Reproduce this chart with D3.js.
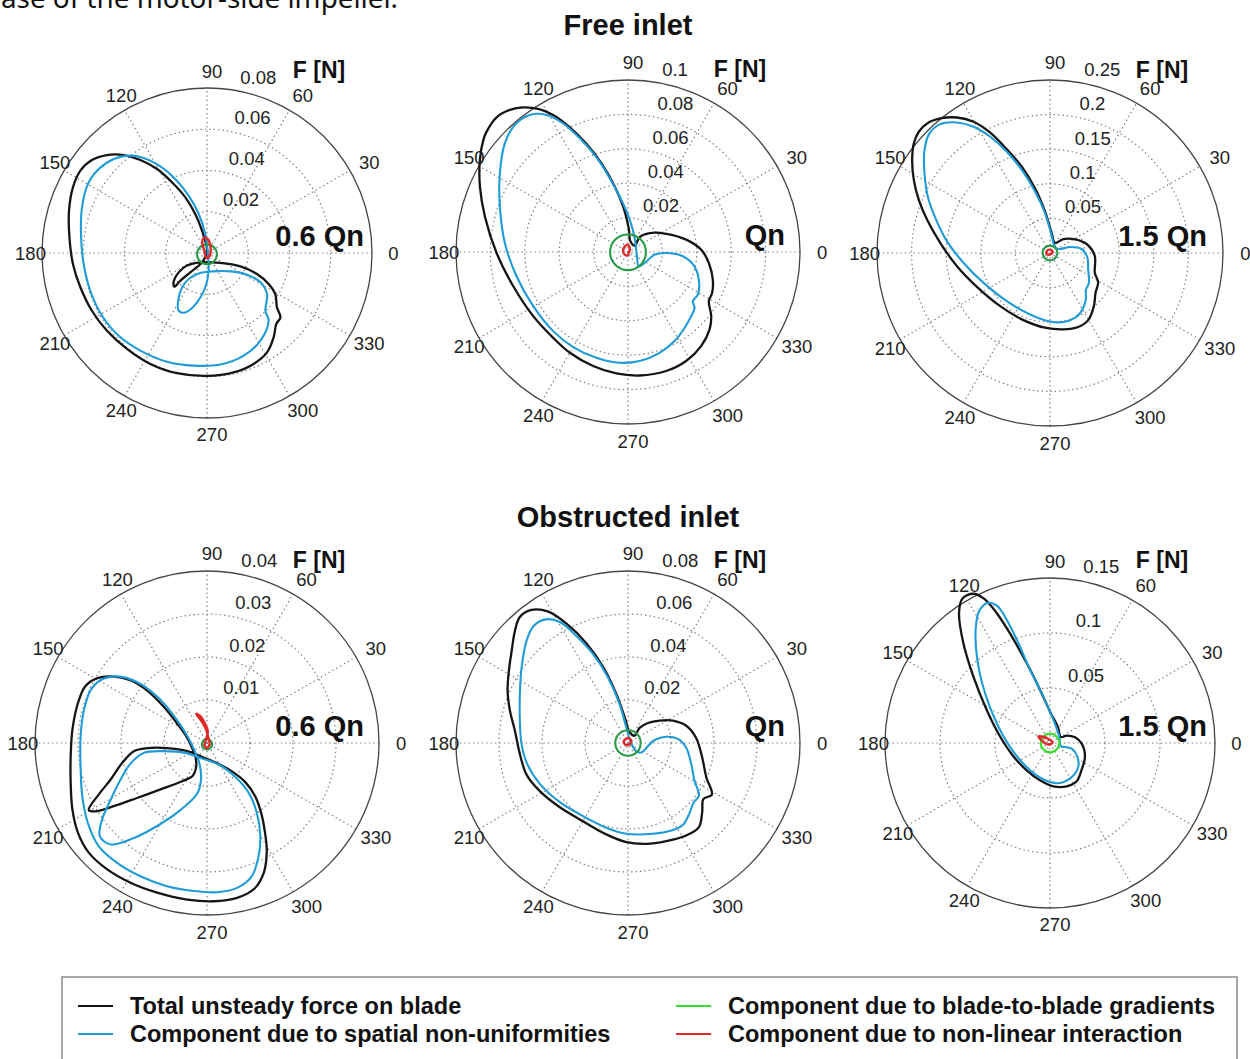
<!DOCTYPE html>
<html>
<head>
<meta charset="utf-8">
<script src="https://cdn.jsdelivr.net/npm/d3@7"></script>
<style>
  body { margin: 0; background: #fff; }
  svg { display: block; font-family: "Liberation Sans", Arial, sans-serif; }
</style>
</head>
<body>
<svg id="chart" width="1250" height="1059"></svg>
<script>
// ---- data: force components [Fx, Fy] in N ----

const angleTicks = [0, 30, 60, 90, 120, 150, 180, 210, 240, 270, 300, 330];
const spokeAngles = [30, 60, 90, 120, 150, 180];

const ticksFree06 = [0.02, 0.04, 0.06, 0.08];
const ticksFreeQn = [0.02, 0.04, 0.06, 0.08, 0.1];
const ticksFree15 = [0.05, 0.1, 0.15, 0.2, 0.25];
const ticksObst06 = [0.01, 0.02, 0.03, 0.04];
const ticksObstQn = [0.02, 0.04, 0.06, 0.08];
const ticksObst15 = [0.05, 0.1, 0.15];

const rowTitles = ['Free inlet', 'Obstructed inlet'];
const flowLabels = ['0.6 Qn', 'Qn', '1.5 Qn'];
const legendLabels = [
    'Total unsteady force on blade',
    'Component due to spatial non-uniformities',
    'Component due to blade-to-blade gradients',
    'Component due to non-linear interaction'
];

// free inlet, 0.6 Qn
const free06Total = [
    [0.0000, 0.0019], [-0.0024, 0.0108], [-0.0057, 0.0189], [-0.0105, 0.0270], [-0.0170, 0.0343],
    [-0.0242, 0.0407], [-0.0323, 0.0451], [-0.0404, 0.0475], [-0.0485, 0.0475], [-0.0558, 0.0451],
    [-0.0614, 0.0399], [-0.0650, 0.0318], [-0.0669, 0.0205], [-0.0667, 0.0076], [-0.0650, -0.0053],
    [-0.0614, -0.0166], [-0.0558, -0.0280], [-0.0485, -0.0377], [-0.0388, -0.0465], [-0.0275, -0.0538],
    [-0.0145, -0.0583], [0.0000, -0.0596], [0.0129, -0.0579], [0.0226, -0.0538], [0.0291, -0.0482],
    [0.0323, -0.0409], [0.0336, -0.0344], [0.0356, -0.0312], [0.0339, -0.0263], [0.0331, -0.0199],
    [0.0299, -0.0150], [0.0242, -0.0102], [0.0162, -0.0065], [0.0065, -0.0048], [-0.0032, -0.0045],
    [-0.0097, -0.0061], [-0.0137, -0.0094], [-0.0162, -0.0142], [-0.0158, -0.0163], [-0.0129, -0.0134],
    [-0.0081, -0.0094], [-0.0032, -0.0053], [-0.0008, -0.0021]
];
const free06Spatial = [
    [0.0003, 0.0011], [-0.0008, 0.0092], [-0.0040, 0.0189], [-0.0089, 0.0278], [-0.0154, 0.0359],
    [-0.0226, 0.0420], [-0.0307, 0.0461], [-0.0380, 0.0472], [-0.0452, 0.0456], [-0.0525, 0.0407],
    [-0.0577, 0.0335], [-0.0606, 0.0221], [-0.0611, 0.0092], [-0.0598, -0.0053], [-0.0566, -0.0183],
    [-0.0509, -0.0304], [-0.0428, -0.0401], [-0.0323, -0.0473], [-0.0194, -0.0527], [-0.0065, -0.0546],
    [0.0065, -0.0541], [0.0178, -0.0498], [0.0259, -0.0425], [0.0299, -0.0328], [0.0283, -0.0280],
    [0.0291, -0.0199], [0.0259, -0.0142], [0.0194, -0.0105], [0.0113, -0.0089], [0.0032, -0.0089],
    [-0.0040, -0.0099], [-0.0097, -0.0134], [-0.0133, -0.0199], [-0.0137, -0.0280], [-0.0105, -0.0288],
    [-0.0048, -0.0239], [-0.0008, -0.0166], [0.0008, -0.0086], [0.0006, -0.0029]
];
const free06Blade = [
    [0.0048, -0.0006], [0.0034, 0.0028], [0.0000, 0.0042], [-0.0034, 0.0028],
    [-0.0048, -0.0006], [-0.0034, -0.0040], [0.0000, -0.0054], [0.0034, -0.0040]
];
const free06NonLin = [
    [-0.0016, 0.0073], [0.0003, 0.0068], [0.0016, 0.0036], [0.0013, -0.0013],
    [-0.0003, -0.0024], [-0.0013, 0.0011], [-0.0023, 0.0047]
];

// free inlet, Qn
const freeQnTotal = [
    [0.0039, 0.0037], [0.0068, 0.0087], [0.0126, 0.0110], [0.0222, 0.0106], [0.0338, 0.0072],
    [0.0425, 0.0014], [0.0470, -0.0064], [0.0493, -0.0161], [0.0489, -0.0238], [0.0470, -0.0286],
    [0.0484, -0.0373], [0.0474, -0.0451], [0.0425, -0.0547], [0.0338, -0.0634], [0.0222, -0.0692],
    [0.0068, -0.0718], [-0.0068, -0.0706], [-0.0203, -0.0663], [-0.0338, -0.0586], [-0.0435, -0.0499],
    [-0.0551, -0.0373], [-0.0667, -0.0199], [-0.0764, -0.0006], [-0.0832, 0.0207], [-0.0861, 0.0381],
    [-0.0861, 0.0536], [-0.0841, 0.0652], [-0.0822, 0.0700], [-0.0764, 0.0783], [-0.0687, 0.0826],
    [-0.0609, 0.0841], [-0.0522, 0.0832], [-0.0435, 0.0797], [-0.0338, 0.0725], [-0.0242, 0.0629],
    [-0.0155, 0.0516], [-0.0077, 0.0381], [-0.0025, 0.0255], [0.0004, 0.0139], [0.0014, 0.0062]
];
const freeQnSpatial = [
    [0.0052, -0.0025], [0.0062, -0.0083], [0.0097, -0.0064], [0.0155, -0.0015], [0.0232, -0.0006],
    [0.0319, -0.0025], [0.0383, -0.0079], [0.0412, -0.0161], [0.0406, -0.0248], [0.0377, -0.0286],
    [0.0387, -0.0325], [0.0362, -0.0383], [0.0329, -0.0441], [0.0271, -0.0518], [0.0184, -0.0586],
    [0.0068, -0.0634], [-0.0048, -0.0644], [-0.0184, -0.0615], [-0.0319, -0.0553], [-0.0435, -0.0460],
    [-0.0551, -0.0315], [-0.0648, -0.0141], [-0.0716, 0.0052], [-0.0745, 0.0265], [-0.0745, 0.0458],
    [-0.0716, 0.0632], [-0.0658, 0.0739], [-0.0571, 0.0797], [-0.0474, 0.0797], [-0.0377, 0.0748],
    [-0.0280, 0.0661], [-0.0184, 0.0551], [-0.0106, 0.0429], [-0.0039, 0.0304], [0.0010, 0.0188],
    [0.0039, 0.0081]
];
const freeQnBlade = [
    [0.0104, 0.0000], [0.0074, 0.0072], [0.0000, 0.0102], [-0.0074, 0.0072],
    [-0.0104, 0.0000], [-0.0074, -0.0074], [0.0000, -0.0106], [0.0074, -0.0074]
];
const freeQnNonLin = [
    [-0.0025, 0.0023], [0.0000, 0.0043], [0.0010, 0.0014], [-0.0006, -0.0021], [-0.0025, -0.0006]
];

// free inlet, 1.5 Qn
const free15Total = [
    [0.0072, 0.0144], [0.0192, 0.0202], [0.0384, 0.0192], [0.0552, 0.0110], [0.0648, -0.0048],
    [0.0648, -0.0288], [0.0696, -0.0422], [0.0658, -0.0576], [0.0634, -0.0768], [0.0552, -0.0970],
    [0.0408, -0.1070], [0.0192, -0.1104], [-0.0072, -0.1080], [-0.0384, -0.0970], [-0.0720, -0.0768],
    [-0.1056, -0.0490], [-0.1344, -0.0192], [-0.1584, 0.0144], [-0.1776, 0.0480], [-0.1896, 0.0768],
    [-0.1968, 0.1056], [-0.1992, 0.1344], [-0.1968, 0.1584], [-0.1896, 0.1752], [-0.1776, 0.1872],
    [-0.1584, 0.1944], [-0.1344, 0.1958], [-0.1104, 0.1896], [-0.0864, 0.1738], [-0.0624, 0.1498],
    [-0.0408, 0.1248], [-0.0216, 0.0936], [-0.0072, 0.0600], [0.0024, 0.0288]
];
const free15Spatial = [
    [0.0086, 0.0072], [0.0144, 0.0058], [0.0288, 0.0086], [0.0456, 0.0058], [0.0538, -0.0058],
    [0.0552, -0.0240], [0.0562, -0.0432], [0.0518, -0.0538], [0.0518, -0.0672], [0.0456, -0.0840],
    [0.0360, -0.0936], [0.0192, -0.0998], [0.0000, -0.0989], [-0.0288, -0.0888], [-0.0624, -0.0696],
    [-0.0960, -0.0432], [-0.1248, -0.0144], [-0.1488, 0.0168], [-0.1656, 0.0504], [-0.1766, 0.0816],
    [-0.1814, 0.1152], [-0.1814, 0.1488], [-0.1742, 0.1728], [-0.1584, 0.1862], [-0.1344, 0.1886],
    [-0.1104, 0.1824], [-0.0864, 0.1680], [-0.0624, 0.1464], [-0.0408, 0.1200], [-0.0216, 0.0888],
    [-0.0072, 0.0576], [0.0014, 0.0288], [0.0058, 0.0120]
];
const free15Blade = [
    [0.0106, 0.0000], [0.0075, 0.0075], [0.0000, 0.0106], [-0.0075, 0.0075],
    [-0.0106, 0.0000], [-0.0075, -0.0075], [0.0000, -0.0106], [0.0075, -0.0075]
];
const free15NonLin = [
    [-0.0048, 0.0024], [0.0000, 0.0048], [0.0038, 0.0010], [0.0000, -0.0024], [-0.0048, -0.0010]
];

// obstructed inlet, 0.6 Qn
const obst06Total = [
    [-0.0029, -0.0025], [-0.0046, 0.0012], [-0.0070, 0.0046], [-0.0101, 0.0085], [-0.0139, 0.0122],
    [-0.0178, 0.0146], [-0.0221, 0.0155], [-0.0255, 0.0151], [-0.0283, 0.0132], [-0.0300, 0.0093],
    [-0.0313, 0.0031], [-0.0317, -0.0031], [-0.0317, -0.0093], [-0.0313, -0.0155], [-0.0300, -0.0209],
    [-0.0275, -0.0255], [-0.0232, -0.0294], [-0.0178, -0.0325], [-0.0116, -0.0348], [-0.0046, -0.0364],
    [0.0015, -0.0368], [0.0070, -0.0360], [0.0110, -0.0339], [0.0132, -0.0302], [0.0139, -0.0252],
    [0.0135, -0.0209], [0.0126, -0.0163], [0.0112, -0.0124], [0.0089, -0.0091], [0.0058, -0.0066],
    [0.0019, -0.0045], [-0.0015, -0.0031], [-0.0046, -0.0019], [-0.0093, -0.0012], [-0.0139, -0.0012],
    [-0.0170, -0.0019], [-0.0197, -0.0046], [-0.0224, -0.0085], [-0.0252, -0.0120], [-0.0275, -0.0156],
    [-0.0259, -0.0159], [-0.0217, -0.0147], [-0.0163, -0.0128], [-0.0108, -0.0108], [-0.0058, -0.0089],
    [-0.0033, -0.0076], [-0.0025, -0.0054], [-0.0027, -0.0031]
];
const obst06Spatial = [
    [-0.0025, -0.0027], [-0.0045, 0.0015], [-0.0076, 0.0062], [-0.0116, 0.0108], [-0.0163, 0.0142],
    [-0.0209, 0.0155], [-0.0248, 0.0146], [-0.0271, 0.0122], [-0.0286, 0.0077], [-0.0294, 0.0015],
    [-0.0294, -0.0054], [-0.0290, -0.0124], [-0.0277, -0.0186], [-0.0252, -0.0240], [-0.0209, -0.0279],
    [-0.0155, -0.0310], [-0.0093, -0.0333], [-0.0031, -0.0344], [0.0023, -0.0347], [0.0070, -0.0337],
    [0.0104, -0.0310], [0.0120, -0.0263], [0.0124, -0.0217], [0.0116, -0.0163], [0.0097, -0.0116],
    [0.0066, -0.0079], [0.0027, -0.0050], [-0.0015, -0.0035], [-0.0050, -0.0023], [-0.0101, -0.0019],
    [-0.0147, -0.0023], [-0.0178, -0.0048], [-0.0201, -0.0085], [-0.0224, -0.0132], [-0.0244, -0.0178],
    [-0.0249, -0.0217], [-0.0224, -0.0236], [-0.0170, -0.0221], [-0.0116, -0.0193], [-0.0062, -0.0156],
    [-0.0023, -0.0118], [-0.0014, -0.0085], [-0.0017, -0.0050]
];
const obst06Blade = [
    [0.0012, -0.0003], [0.00085, 0.00055], [0.0000, 0.0009], [-0.00085, 0.00055],
    [-0.0012, -0.0003], [-0.00085, -0.00115], [0.0000, -0.0015], [0.00085, -0.00115]
];
const obst06NonLin = [
    [-0.0025, 0.0068], [-0.0015, 0.0062], [-0.0005, 0.0046], [0.0002, 0.0027], [-0.0002, 0.0009],
    [-0.0006, -0.0004], [0.0000, -0.0012], [0.0006, -0.0002], [0.0003, 0.0012], [-0.0002, 0.0031],
    [-0.0012, 0.0050], [-0.0022, 0.0063]
];

// obstructed inlet, Qn
const obstQnTotal = [
    [0.0031, 0.0034], [0.0054, 0.0070], [0.0093, 0.0093], [0.0147, 0.0104], [0.0209, 0.0104],
    [0.0271, 0.0080], [0.0317, 0.0023], [0.0345, -0.0067], [0.0364, -0.0159], [0.0390, -0.0240],
    [0.0351, -0.0260], [0.0345, -0.0322], [0.0330, -0.0391], [0.0271, -0.0430], [0.0178, -0.0456],
    [0.0085, -0.0469], [-0.0008, -0.0461], [-0.0101, -0.0425], [-0.0209, -0.0364], [-0.0317, -0.0299],
    [-0.0410, -0.0224], [-0.0472, -0.0147], [-0.0503, -0.0051], [-0.0526, 0.0057], [-0.0549, 0.0150],
    [-0.0560, 0.0243], [-0.0554, 0.0336], [-0.0541, 0.0429], [-0.0526, 0.0521], [-0.0503, 0.0586],
    [-0.0449, 0.0619], [-0.0371, 0.0611], [-0.0286, 0.0555], [-0.0193, 0.0463], [-0.0116, 0.0354],
    [-0.0054, 0.0227], [-0.0015, 0.0119], [0.0008, 0.0050]
];
const obstQnSpatial = [
    [0.0039, -0.0039], [0.0065, -0.0043], [0.0090, -0.0017], [0.0124, 0.0014], [0.0178, 0.0029],
    [0.0232, 0.0019], [0.0271, -0.0023], [0.0294, -0.0097], [0.0309, -0.0175], [0.0330, -0.0244],
    [0.0305, -0.0278], [0.0283, -0.0333], [0.0255, -0.0381], [0.0201, -0.0407], [0.0116, -0.0422],
    [-0.0008, -0.0422], [-0.0101, -0.0394], [-0.0209, -0.0340], [-0.0317, -0.0275], [-0.0410, -0.0190],
    [-0.0469, -0.0097], [-0.0495, -0.0005], [-0.0503, 0.0104], [-0.0503, 0.0227], [-0.0495, 0.0351],
    [-0.0472, 0.0475], [-0.0438, 0.0545], [-0.0382, 0.0575], [-0.0317, 0.0563], [-0.0240, 0.0498],
    [-0.0162, 0.0413], [-0.0093, 0.0305], [-0.0039, 0.0181], [-0.0008, 0.0073], [0.0011, 0.0008]
];
const obstQnBlade = [
    [0.0059, 0.0000], [0.0042, 0.0042], [0.0000, 0.0059], [-0.0042, 0.0042],
    [-0.0059, 0.0000], [-0.0042, -0.0042], [0.0000, -0.0059], [0.0042, -0.0042]
];
const obstQnNonLin = [
    [-0.0020, 0.0008], [0.0000, 0.0023], [0.0015, 0.0011], [0.0005, -0.0008], [-0.0015, -0.0005]
];

// obstructed inlet, 1.5 Qn
const obst15Total = [
    [0.0097, 0.0055], [0.0152, 0.0067], [0.0227, 0.0052], [0.0288, -0.0006], [0.0318, -0.0121],
    [0.0288, -0.0242], [0.0242, -0.0348], [0.0152, -0.0394], [0.0030, -0.0394], [-0.0091, -0.0339],
    [-0.0212, -0.0248], [-0.0333, -0.0121], [-0.0455, 0.0061], [-0.0576, 0.0303], [-0.0697, 0.0606],
    [-0.0788, 0.0909], [-0.0827, 0.1182], [-0.0797, 0.1312], [-0.0697, 0.1357], [-0.0600, 0.1312],
    [-0.0485, 0.1182], [-0.0348, 0.0970], [-0.0212, 0.0727], [-0.0091, 0.0485], [0.0006, 0.0273],
    [0.0073, 0.0145]
];
const obst15Spatial = [
    [0.0097, -0.0030], [0.0136, -0.0036], [0.0203, -0.0055], [0.0248, -0.0121], [0.0258, -0.0212],
    [0.0227, -0.0279], [0.0167, -0.0333], [0.0091, -0.0364], [0.0000, -0.0355], [-0.0121, -0.0294],
    [-0.0242, -0.0188], [-0.0364, -0.0036], [-0.0485, 0.0182], [-0.0591, 0.0455], [-0.0661, 0.0758],
    [-0.0676, 0.1030], [-0.0645, 0.1197], [-0.0570, 0.1273], [-0.0485, 0.1251], [-0.0394, 0.1121],
    [-0.0288, 0.0909], [-0.0182, 0.0667], [-0.0061, 0.0424], [0.0030, 0.0212], [0.0085, 0.0055]
];
const obst15Blade = [
    [0.0085, 0.0000], [0.0060, 0.0060], [0.0000, 0.0085], [-0.0060, 0.0060],
    [-0.0085, 0.0000], [-0.0060, -0.0060], [0.0000, -0.0085], [0.0060, -0.0060]
];
const obst15NonLin = [
    [-0.0106, 0.0061], [-0.0030, 0.0045], [0.0024, 0.0006], [-0.0015, -0.0015], [-0.0076, 0.0024]
];

// ---- layout & styles ----
const colors = {
    total: '#151515',
    spatial: '#1f9bd7',
    blade: '#2a9a48',
    bladeBright: '#3cdc2a',
    nonlin: '#e02828'
};

const panels = [
    { cx: 207, cy: 253, R: 165, ticks: ticksFree06, label: flowLabels[0], green: colors.blade,
      series: [free06Total, free06Spatial, free06Blade, free06NonLin] },
    { cx: 628, cy: 252, R: 172, ticks: ticksFreeQn, label: flowLabels[1], green: colors.blade,
      series: [freeQnTotal, freeQnSpatial, freeQnBlade, freeQnNonLin] },
    { cx: 1050, cy: 253, R: 173, ticks: ticksFree15, label: flowLabels[2], green: colors.blade,
      series: [free15Total, free15Spatial, free15Blade, free15NonLin] },
    { cx: 207, cy: 743, R: 172, ticks: ticksObst06, label: flowLabels[0], green: colors.blade,
      series: [obst06Total, obst06Spatial, obst06Blade, obst06NonLin] },
    { cx: 628, cy: 743, R: 172, ticks: ticksObstQn, label: flowLabels[1], green: colors.blade,
      series: [obstQnTotal, obstQnSpatial, obstQnBlade, obstQnNonLin] },
    { cx: 1050, cy: 743, R: 165, ticks: ticksObst15, label: flowLabels[2], green: colors.bladeBright,
      series: [obst15Total, obst15Spatial, obst15Blade, obst15NonLin] }
];

const svg = d3.select('#chart');

// cut-off line of the surrounding paper text
svg.append('text')
    .attr('x', 1)
    .attr('y', 8)
    .attr('textLength', 397)
    .attr('lengthAdjust', 'spacingAndGlyphs')
    .style('font-family', '"Noto Sans", "Open Sans", sans-serif')
    .style('font-size', '27px')
    .attr('fill', '#111')
    .text('ase of the motor-side impeller.');

function drawPanel(p) {
    const rMax = p.ticks[p.ticks.length - 1];
    const rInc = p.ticks[0];
    const r = d3.scaleLinear().domain([0, rMax]).range([0, p.R]);
    const g = svg.append('g')
        .attr('class', 'panel')
        .attr('transform', `translate(${p.cx},${p.cy})`);

    /* dotted rings (outer one is solid) */
    g.selectAll('.ring')
        .data(p.ticks.slice(0, -1))
        .enter().append('circle')
        .attr('class', 'ring')
        .attr('r', (d) => r(d))
        .attr('fill', 'none')
        .attr('stroke', '#7a7a7a')
        .attr('stroke-width', 1.2)
        .attr('stroke-dasharray', '1.4 3');

    /* dotted spokes, full diameters */
    g.selectAll('.spoke')
        .data(spokeAngles)
        .enter().append('line')
        .attr('class', 'spoke')
        .attr('x1', (d) => -p.R * Math.cos(d * Math.PI / 180))
        .attr('y1', (d) => p.R * Math.sin(d * Math.PI / 180))
        .attr('x2', (d) => p.R * Math.cos(d * Math.PI / 180))
        .attr('y2', (d) => -p.R * Math.sin(d * Math.PI / 180))
        .attr('stroke', '#7a7a7a')
        .attr('stroke-width', 1.2)
        .attr('stroke-dasharray', '1.4 3');

    g.append('circle')
        .attr('r', p.R)
        .attr('fill', 'none')
        .attr('stroke', '#454545')
        .attr('stroke-width', 1.3);

    /* angle labels */
    g.selectAll('.alabel')
        .data(angleTicks)
        .enter().append('text')
        .attr('class', 'alabel')
        .attr('x', (d) => 1.1 * p.R * Math.cos(d * Math.PI / 180) + 5)
        .attr('y', (d) => -1.1 * p.R * Math.sin(d * Math.PI / 180))
        .attr('text-anchor', 'middle')
        .attr('dominant-baseline', 'central')
        .style('font-size', '18.5px')
        .attr('fill', '#222')
        .text((d) => d);

    /* radial tick labels along 82 deg */
    const a82 = 82 * Math.PI / 180;
    g.selectAll('.rlabel')
        .data(p.ticks)
        .enter().append('text')
        .attr('class', 'rlabel')
        .attr('x', (d) => (r(d) + r(rInc) / 20) * Math.cos(a82) + 10)
        .attr('y', (d) => -(r(d) + r(rInc) / 20) * Math.sin(a82) - 4)
        .style('font-size', '18.5px')
        .attr('fill', '#222')
        .text((d) => d3.format('~g')(d));

    /* force curves */
    const line = d3.lineRadial()
        .angle((d) => Math.PI / 2 - Math.atan2(d[1], d[0]))
        .radius((d) => r(Math.hypot(d[0], d[1])))
        .curve(d3.curveCatmullRomClosed.alpha(0.5));

    const styles = [
        { color: colors.total, w: 2.3 },
        { color: colors.spatial, w: 2.1 },
        { color: p.green, w: 2.1 },
        { color: colors.nonlin, w: 2.4 }
    ];
    p.series.forEach((s, i) => {
        g.append('path')
            .attr('d', line(s))
            .attr('fill', 'none')
            .attr('stroke', styles[i].color)
            .attr('stroke-width', styles[i].w)
            .attr('stroke-linejoin', 'round');
    });

    g.append('text')
        .attr('x', 112)
        .attr('y', -183)
        .attr('text-anchor', 'middle')
        .attr('dominant-baseline', 'central')
        .style('font-size', '23px')
        .style('font-weight', 'bold')
        .attr('fill', '#111')
        .text('F [N]');

    g.append('text')
        .attr('x', 157)
        .attr('y', -7)
        .attr('text-anchor', 'end')
        .style('font-size', '29px')
        .style('font-weight', 'bold')
        .attr('fill', '#111')
        .text(p.label);
}

panels.forEach(drawPanel);

/* row titles */
svg.selectAll('.title')
    .data(rowTitles)
    .enter().append('text')
    .attr('class', 'title')
    .attr('x', 628)
    .attr('y', (d, i) => [25, 517][i])
    .attr('text-anchor', 'middle')
    .attr('dominant-baseline', 'central')
    .style('font-size', '29px')
    .style('font-weight', 'bold')
    .attr('fill', '#111')
    .text((d) => d);

/* legend */
const legend = svg.append('g').attr('class', 'legend');
legend.append('rect')
    .attr('x', 62)
    .attr('y', 977)
    .attr('width', 1175)
    .attr('height', 120)
    .attr('fill', '#fff')
    .attr('stroke', '#8a8a8a')
    .attr('stroke-width', 1.5);

const legendColors = [colors.total, colors.spatial, '#33dd33', colors.nonlin];
const legendItems = legend.selectAll('.item')
    .data(legendLabels)
    .enter().append('g')
    .attr('class', 'item')
    .attr('transform', (d, i) => `translate(${i < 2 ? 78 : 676},${i % 2 === 0 ? 1006 : 1034})`);

legendItems.append('line')
    .attr('x1', 0)
    .attr('x2', 35)
    .attr('stroke', (d, i) => legendColors[i])
    .attr('stroke-width', 2);

legendItems.append('text')
    .attr('x', 52)
    .attr('dominant-baseline', 'central')
    .style('font-size', '23.5px')
    .style('font-weight', 'bold')
    .attr('fill', '#111')
    .text((d) => d);
</script>
</body>
</html>
